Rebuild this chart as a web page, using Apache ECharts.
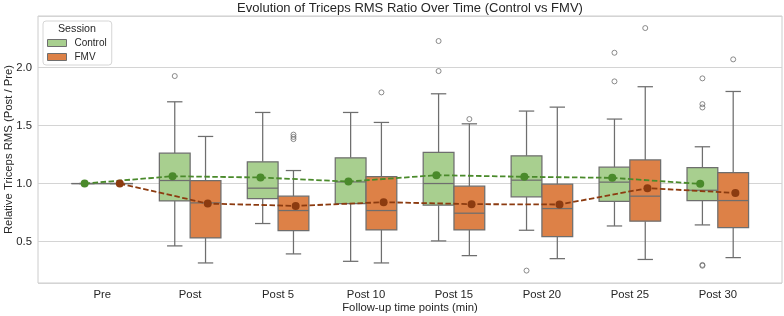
<!DOCTYPE html>
<html>
<head>
<meta charset="utf-8">
<script src="https://cdn.jsdelivr.net/npm/echarts@6/dist/echarts.min.js"></script>
<style>
  html, body { margin: 0; padding: 0; background: #fff; }
  #chart { width: 784px; height: 316px; }
</style>
</head>
<body>
<div id="chart"></div>
<script>
// ---------------- data ----------------
const categories = ['Pre', 'Post', 'Post 5', 'Post 10', 'Post 15', 'Post 20', 'Post 25', 'Post 30'];
const sessions = ['Control', 'FMV'];

// box statistics per time point: [lower whisker, Q1, median, Q3, upper whisker]
const controlBoxes = [
  [1.000, 1.000, 1.000, 1.000, 1.000],
  [0.462, 0.850, 1.026, 1.262, 1.705],
  [0.655, 0.870, 0.960, 1.187, 1.613],
  [0.329, 0.827, 1.014, 1.222, 1.613],
  [0.505, 0.813, 1.000, 1.268, 1.774],
  [0.597, 0.885, 1.029, 1.239, 1.625],
  [0.634, 0.845, 1.012, 1.141, 1.556],
  [0.643, 0.853, 0.942, 1.138, 1.317]
];
const fmvBoxes = [
  [1.000, 1.000, 1.000, 1.000, 1.000],
  [0.315, 0.531, 0.833, 1.026, 1.406],
  [0.393, 0.594, 0.767, 0.891, 1.112],
  [0.315, 0.600, 0.767, 1.060, 1.527],
  [0.378, 0.600, 0.744, 0.977, 1.515],
  [0.352, 0.542, 0.784, 0.994, 1.659],
  [0.345, 0.675, 0.891, 1.204, 1.835],
  [0.361, 0.620, 0.853, 1.095, 1.794]
];

// mean per time point (pointplot)
const controlMeans = [1.000, 1.063, 1.052, 1.017, 1.072, 1.058, 1.049, 0.997];
const fmvMeans     = [1.000, 0.827, 0.807, 0.839, 0.822, 0.819, 0.960, 0.919];

// outliers: [time point index, value]
const controlOutliers = [
  [1, 1.927], [4, 2.229], [4, 1.970], [5, 0.249], [6, 2.128], [6, 1.881],
  [7, 1.907], [7, 1.685], [7, 1.656], [7, 0.298], [7, 0.291]
];
const fmvOutliers = [
  [2, 1.422], [2, 1.402], [2, 1.383], [3, 1.786], [4, 1.556], [6, 2.341], [7, 2.071]
];

const yTicks = [0.5, 1.0, 1.5, 2.0];

// ---------------- styling ----------------
const FILL = { Control: '#a8cf8f', FMV: '#dd8147' };
const MEAN = { Control: '#4a8a2b', FMV: '#8c3b10' };
const EDGE = '#6e6e6e';
const TEXT = '#262626';
const GRIDC = '#d4d4d4';
const BOX_HALF = 0.175;   // half width of one box in category units
const BOX_OFF = 0.175;    // hue dodge of boxes
const PT_OFF = 0.2;       // hue dodge of the mean points
const FONT = 'Liberation Sans, Arial, sans-serif';

function boxRenderer(offset, fill) {
  return function (params, api) {
    const i = api.value(0);
    const x = i + offset;
    const pLow = api.coord([x, api.value(1)]);
    const pQ1 = api.coord([x, api.value(2)]);
    const pMed = api.coord([x, api.value(3)]);
    const pQ3 = api.coord([x, api.value(4)]);
    const pHigh = api.coord([x, api.value(5)]);
    const halfW = api.size([BOX_HALF, 0])[0];
    const capW = halfW / 2;
    const cx = pQ1[0];
    const ls = { stroke: EDGE, lineWidth: 1.25 };
    return {
      type: 'group',
      children: [
        { type: 'line', shape: { x1: cx, y1: pQ1[1], x2: cx, y2: pLow[1] }, style: ls },
        { type: 'line', shape: { x1: cx, y1: pQ3[1], x2: cx, y2: pHigh[1] }, style: ls },
        { type: 'line', shape: { x1: cx - capW, y1: pLow[1], x2: cx + capW, y2: pLow[1] }, style: ls },
        { type: 'line', shape: { x1: cx - capW, y1: pHigh[1], x2: cx + capW, y2: pHigh[1] }, style: ls },
        { type: 'rect', shape: { x: cx - halfW, y: pQ3[1], width: halfW * 2, height: pQ1[1] - pQ3[1] },
          style: { fill: fill, stroke: EDGE, lineWidth: 1.25 } },
        { type: 'line', shape: { x1: cx - halfW, y1: pMed[1], x2: cx + halfW, y2: pMed[1] }, style: ls }
      ]
    };
  };
}

function boxData(boxes) {
  return boxes.map((b, i) => [i].concat(b));
}

const chart = echarts.init(document.getElementById('chart'), null, { renderer: 'canvas' });

const option = {
  animation: false,
  backgroundColor: '#ffffff',
  textStyle: { fontFamily: FONT },
  graphic: [
    { type: 'text', x: 410, y: 8, z: 10,
      style: { text: 'Evolution of Triceps RMS Ratio Over Time (Control vs FMV)', fill: TEXT,
        font: '13px ' + FONT, textAlign: 'center', textVerticalAlign: 'middle' } },
    { type: 'text', x: 77, y: 29.5, z: 20,
      style: { text: 'Session', fill: TEXT, font: '10.7px ' + FONT, textAlign: 'center', textVerticalAlign: 'middle' } }
  ],
  legend: {
    left: 43, top: 21,
    orient: 'vertical',
    padding: [17, 5, 3, 4],
    itemGap: 4,
    itemWidth: 19, itemHeight: 7,
    borderColor: '#d6d6d6', borderWidth: 1, borderRadius: 3,
    backgroundColor: 'rgba(255,255,255,0.85)',
    textStyle: { color: TEXT, fontSize: 10, fontFamily: FONT, lineHeight: 10, padding: [0, 0, 0, 3] },
    selectedMode: false,
    z: 15,
    data: sessions.map(s => ({
      name: s, icon: 'rect',
      itemStyle: { color: FILL[s], borderColor: EDGE, borderWidth: 1 }
    }))
  },
  grid: { left: 38, right: 2, top: 16, bottom: 33, containLabel: false, outerBoundsMode: 'none',
    show: true, borderColor: '#cccccc', borderWidth: 1, backgroundColor: '#fff' },
  xAxis: {
    type: 'value',
    min: -0.73, max: 7.73,
    splitNumber: 8, minInterval: 1, maxInterval: 1,
    name: 'Follow-up time points (min)',
    nameLocation: 'middle', nameGap: 19.5, nameMoveOverlap: false,
    nameTextStyle: { color: TEXT, fontSize: 11.3, fontFamily: FONT },
    axisLine: { show: false }, axisTick: { show: false }, splitLine: { show: false },
    axisLabel: {
      color: TEXT, fontSize: 11.3, fontFamily: FONT, margin: 6,
      showMinLabel: false, showMaxLabel: false,
      formatter: v => (Number.isInteger(v) && v >= 0 && v < categories.length) ? categories[v] : ''
    }
  },
  yAxis: {
    type: 'value',
    min: 0.142, max: 2.445,
    splitNumber: 5, minInterval: 0.5, maxInterval: 0.5,
    name: 'Relative Triceps RMS (Post / Pre)',
    nameLocation: 'middle', nameGap: 24, nameMoveOverlap: false,
    nameTextStyle: { color: TEXT, fontSize: 11.3, fontFamily: FONT },
    axisLine: { show: false }, axisTick: { show: false },
    splitLine: { show: true, lineStyle: { color: GRIDC, width: 1 } },
    axisLabel: {
      color: TEXT, fontSize: 11.3, fontFamily: FONT, margin: 6,
      showMinLabel: false, showMaxLabel: false,
      formatter: v => yTicks.some(t => Math.abs(t - v) < 1e-6) ? v.toFixed(1) : ''
    }
  },
  series: [
    { name: 'Control', type: 'custom', renderItem: boxRenderer(-BOX_OFF, FILL.Control),
      itemStyle: { color: FILL.Control }, data: boxData(controlBoxes), z: 2,
      encode: { x: 0, y: [1, 2, 3, 4, 5] } },
    { name: 'FMV', type: 'custom', renderItem: boxRenderer(BOX_OFF, FILL.FMV),
      itemStyle: { color: FILL.FMV }, data: boxData(fmvBoxes), z: 2,
      encode: { x: 0, y: [1, 2, 3, 4, 5] } },
    { name: 'Control outliers', type: 'scatter', symbol: 'circle', symbolSize: 5, z: 3,
      itemStyle: { color: 'rgba(255,255,255,0)', borderColor: EDGE, borderWidth: 1 },
      data: controlOutliers.map(([i, v]) => [i - BOX_OFF, v]) },
    { name: 'FMV outliers', type: 'scatter', symbol: 'circle', symbolSize: 5, z: 3,
      itemStyle: { color: 'rgba(255,255,255,0)', borderColor: EDGE, borderWidth: 1 },
      data: fmvOutliers.map(([i, v]) => [i + BOX_OFF, v]) },
    { name: 'Control mean', type: 'line', z: 5, symbol: 'circle', symbolSize: 8, showSymbol: true,
      itemStyle: { color: MEAN.Control },
      lineStyle: { color: MEAN.Control, width: 1.8, type: [5.5, 2.5] },
      data: controlMeans.map((m, i) => [i - PT_OFF, m]) },
    { name: 'FMV mean', type: 'line', z: 5, symbol: 'circle', symbolSize: 8, showSymbol: true,
      itemStyle: { color: MEAN.FMV },
      lineStyle: { color: MEAN.FMV, width: 1.8, type: [5.5, 2.5] },
      data: fmvMeans.map((m, i) => [i + PT_OFF, m]) }
  ]
};

chart.setOption(option);
</script>
</body>
</html>
